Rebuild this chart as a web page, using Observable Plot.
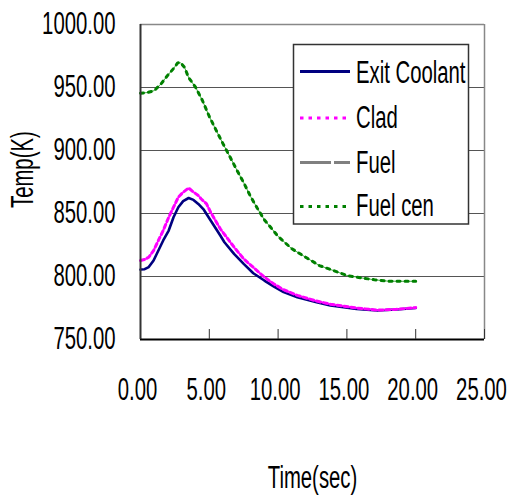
<!DOCTYPE html>
<html>
<head>
<meta charset="utf-8">
<script src="https://cdn.jsdelivr.net/npm/d3@7"></script>
<script src="https://cdn.jsdelivr.net/npm/@observablehq/plot@0.6"></script>
<style>
  html, body { margin: 0; padding: 0; background: #fff; }
  svg { display: block; }
</style>
</head>
<body>
<div id="chart"></div>
<script>
// ---- data ----
const seriesNames = ["Exit Coolant", "Clad", "Fuel", "Fuel cen"];

const coolantTime = [0, 0.3, 0.6, 0.95, 1.3, 1.65, 2.05, 2.4, 2.75, 3.1, 3.5, 3.85, 4.2, 4.6, 5.1, 5.8, 6.1, 6.8, 7.5, 8.2, 9.0, 9.7, 10.4, 11.4, 12.8, 13.8, 15.7, 17.2, 18.6, 20];
const coolantTemp = [805.5, 805.8, 807.5, 812.7, 820.6, 828.6, 836.5, 847, 855, 859.8, 862.3, 860.8, 857.6, 853, 844.5, 832.5, 827.2, 818, 810, 802.6, 796.8, 792, 787.6, 783.6, 779.6, 777, 774.3, 773, 773.8, 775];

const cladTime = [0, 0.3, 0.6, 0.95, 1.3, 1.65, 2.05, 2.4, 2.75, 3.1, 3.5, 3.85, 4.2, 4.4, 4.8, 5.1, 5.8, 6.8, 7.5, 8.2, 9.0, 9.7, 10.4, 11.4, 12.8, 13.8, 15.7, 17.2, 18.6, 20];
const cladTemp = [812.7, 813.5, 815.3, 820.6, 828.6, 836.5, 847, 855, 863, 866.9, 870.2, 867, 864.3, 861.7, 857.6, 851, 837.8, 823.3, 814, 807.2, 799.5, 794, 789.5, 785, 780.5, 778, 775, 773.3, 774, 775.3];

// Fuel is not visible in the picture (hidden under the other curves)
const fuelTime = [];
const fuelTemp = [];

const fuelCenTime = [0, 0.5, 1, 1.5, 2, 2.4, 2.7, 2.9, 3.2, 3.5, 4, 4.5, 5, 5.5, 6, 6.5, 7, 7.5, 8, 8.5, 9, 9.5, 10, 11, 12, 13, 14, 15, 16, 17, 18, 19, 20];
const fuelCenTemp = [945.5, 946, 947.5, 953, 960, 965, 969.5, 969.8, 966, 957.8, 950.3, 939.7, 927, 916, 905.3, 895, 884.5, 874.5, 863.5, 854, 845, 838.5, 831.8, 822, 815.3, 808.7, 804.8, 800.8, 799, 797.4, 796.3, 796.2, 796.2];

const xTicks = [0, 5, 10, 15, 20, 25];
const yTicks = [750, 800, 850, 900, 950, 1000];
const gridValues = [800, 850, 900, 950];

// ---- build tables ----
const toRows = (ts, vs) => ts.map((t, i) => ({t, v: vs[i]}));
const coolant = toRows(coolantTime, coolantTemp);
const clad = toRows(cladTime, cladTemp);
const fuel = toRows(fuelTime, fuelTemp);
const fuelCen = toRows(fuelCenTime, fuelCenTemp);

const FONT = "'Liberation Sans', Arial, sans-serif";
const FS = 31;
const SQUEEZE = 0.655;
const fmt = d3.format(".2f");

const chart = Plot.plot({
  width: 511,
  height: 495,
  marginLeft: 140,
  marginRight: 27,
  marginTop: 24,
  marginBottom: 156,
  style: {fontFamily: FONT, fontSize: FS + "px", color: "#000", background: "#fff"},
  x: {domain: [xTicks[0], xTicks[xTicks.length - 1]]},
  y: {domain: [yTicks[0], yTicks[yTicks.length - 1]]},
  marks: [
    Plot.ruleY(gridValues, {stroke: "#555", strokeWidth: 1}),
    Plot.ruleY([yTicks[yTicks.length - 1]], {stroke: "#888", strokeWidth: 1.5}),
    Plot.ruleX([xTicks[xTicks.length - 1]], {stroke: "#888", strokeWidth: 1.5}),
    // series
    Plot.line(fuel, {x: "t", y: "v", stroke: "#808080", strokeWidth: 3, strokeDasharray: "30 3"}),
    Plot.line(coolant, {x: "t", y: "v", stroke: "#000080", strokeWidth: 2.6}),
    Plot.line(clad, {x: "t", y: "v", stroke: "#ff66ff", strokeWidth: 1.2}),
    Plot.line(clad, {x: "t", y: "v", stroke: "#ff00ff", strokeWidth: 3, strokeDasharray: "4 3"}),
    Plot.line(fuelCen, {x: "t", y: "v", stroke: "#44aa44", strokeWidth: 1}),
    Plot.line(fuelCen, {x: "t", y: "v", stroke: "#008000", strokeWidth: 3, strokeDasharray: "3 5"}),
    // axes
    Plot.ruleX([xTicks[0]], {stroke: "#333", strokeWidth: 2}),
    Plot.ruleY([yTicks[0]], {stroke: "#000", strokeWidth: 2}),
    Plot.axisX(xTicks, {tickSize: -10, text: null, label: null, stroke: "#333"}),
    Plot.axisX(xTicks, {tickSize: 0, tickPadding: 38, tickFormat: fmt, dx: -3, label: null, fill: "#000"}),
    Plot.axisY(yTicks, {tickSize: 0, tickPadding: 25, tickFormat: fmt, label: null, fill: "#000"}),
    Plot.text(["Time(sec)"], {frameAnchor: "bottom", dy: 139, lineAnchor: "middle", fill: "#000"}),
    Plot.text(["Temp(K)"], {frameAnchor: "left", dx: -117, dy: 26, rotate: -90, lineAnchor: "middle", fill: "#000"})
  ]
});

document.getElementById("chart").appendChild(chart);

// ---- legend inside the plot area ----
const svg = d3.select(chart);
const lg = svg.append("g").attr("class", "legend").attr("text-anchor", "start");
lg.append("rect")
  .attr("x", 293.5).attr("y", 44.5).attr("width", 175).attr("height", 179.5)
  .attr("fill", "#fff").attr("stroke", "#333").attr("stroke-width", 1.5);
const legendStyles = [
  {stroke: "#000080", dash: null, width: 3},
  {stroke: "#ff00ff", dash: "3.5 5", width: 3.2},
  {stroke: "#808080", dash: "31 3", width: 3},
  {stroke: "#008000", dash: "3.5 5", width: 3.2}
];
const lineY = [71.5, 118, 162.5, 206.5];
const textY = [71.5, 116.5, 161.5, 205];
seriesNames.forEach((name, i) => {
  const s = legendStyles[i];
  lg.append("line")
    .attr("x1", 300).attr("x2", 350).attr("y1", lineY[i]).attr("y2", lineY[i])
    .attr("stroke", s.stroke).attr("stroke-width", s.width)
    .attr("stroke-dasharray", s.dash);
  lg.append("text")
    .attr("x", 356).attr("y", textY[i]).attr("dy", "0.36em")
    .attr("text-anchor", "start")
    .attr("font-family", FONT).attr("font-size", FS).attr("fill", "#000")
    .text(name);
});

// condensed lettering like the reference (narrow font)
chart.querySelectorAll("text").forEach(t => {
  const w = t.getComputedTextLength();
  if (w > 0) {
    t.setAttribute("textLength", (w * SQUEEZE).toFixed(1));
    t.setAttribute("lengthAdjust", "spacingAndGlyphs");
  }
});
</script>
</body>
</html>
